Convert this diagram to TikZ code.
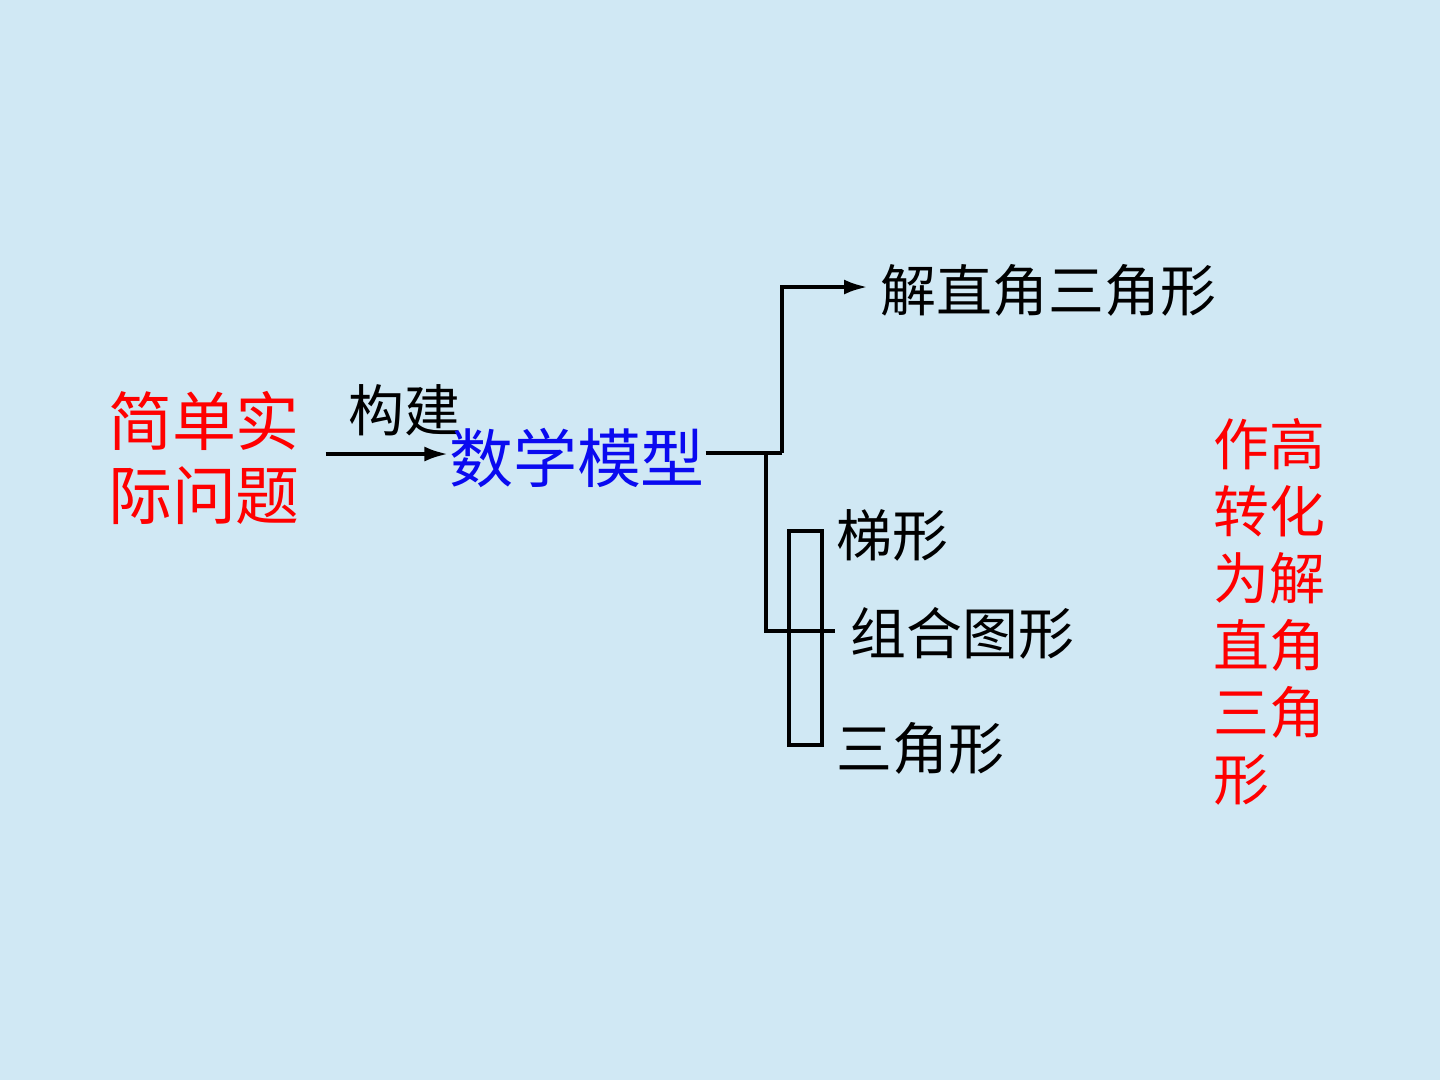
\documentclass[tikz,border=0pt]{standalone}
\usepackage{fontspec}
\setmainfont{Noto Sans CJK SC}
\usetikzlibrary{arrows.meta,positioning,calc}
\definecolor{Sky}{HTML}{D0E8F4}
\definecolor{Ink}{HTML}{000000}
\definecolor{Hot}{HTML}{FF0000}
\definecolor{Model}{HTML}{0A0AF0}
\tikzset{
  big/.style={font=\fontsize{18.2pt}{21.3pt}\selectfont,inner sep=0pt,align=center},
  small/.style={font=\fontsize{15.9pt}{19pt}\selectfont,inner sep=0pt,text=Ink},
  hotcol/.style={font=\fontsize{15.9pt}{19.06pt}\selectfont,inner sep=0pt,text=Hot,align=left},
  flow/.style={-{Latex[length=2.4mm,width=1.5mm]},draw=Ink,line width=1.2pt},
  plainline/.style={draw=Ink,line width=1.2pt}
}
\begin{document}
\begin{tikzpicture}[x=0.1mm,y=-0.1mm]
        \fill[Sky] (0,0) rectangle (1440,1080);
        \useasboundingbox (0,0) rectangle (1440,1080);
        \node[big,text=Hot] (wenti) at (204,458) {简单实\\际问题};
        \node[small] (goujian) at (404,410) {构建};
        \node[big,text=Model] (moxing) at (577,458) {数学模型};
        \node[small,anchor=west] (jie) at (880,290) {解直角三角形};
        \node[small,anchor=west] (tixing) at (836,535) {梯形};
        \node[small,anchor=west] (zuhe) at (850,633) {组合图形};
        \node[small,anchor=west] (sanjiao) at (836,748) {三角形};
        \node[hotcol,anchor=north west] (zuogao) at (1213,418) {作高\\转化\\为解\\直角\\三角\\形};
        \coordinate (up) at (782,453);
        \coordinate (down) at (766,453);
        \coordinate (mid) at (835,631);
        \coordinate (tip) at (868,287);
        \draw[flow] ($(wenti.east)+(25,-4)$) -- (moxing.west |- 0,454);
        \draw[plainline] (moxing.east |- up) -- (up);
        \draw[flow] (up) |- (tip);
        \draw[plainline] (down) |- (mid);
        \draw[plainline] (789,531) rectangle (822,745);
      \end{tikzpicture}
\end{document}
